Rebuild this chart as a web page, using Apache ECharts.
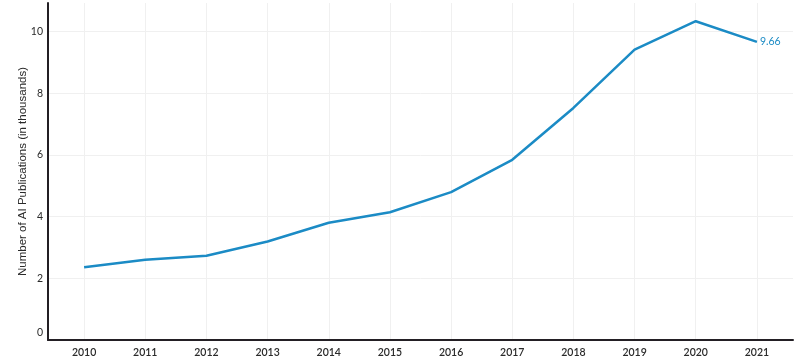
<!DOCTYPE html>
<html>
<head>
<meta charset="utf-8">
<script src="https://cdn.jsdelivr.net/npm/echarts@6/dist/echarts.min.js"></script>
<style>
html,body{margin:0;padding:0;background:#fff;}
#chart{width:800px;height:363px;}
</style>
</head>
<body>
<div id="chart"></div>
<script>
const years = [2010, 2011, 2012, 2013, 2014, 2015, 2016, 2017, 2018, 2019, 2020, 2021];
const publications = [2.36, 2.60, 2.73, 3.19, 3.80, 4.14, 4.79, 5.84, 7.52, 9.41, 10.33, 9.66];
const yTicks = [0, 2, 4, 6, 8, 10];
const yAxisTitle = 'Number of AI Publications (in thousands)';

const lineColor = '#1b8bc5';
const font = 'Lato, "Open Sans", sans-serif';
const titleFont = '"Liberation Sans", Arial, sans-serif';

const chart = echarts.init(document.getElementById('chart'), null, {renderer: 'canvas'});
chart.setOption({
  animation: false,
  backgroundColor: '#fff',
  grid: {left: 48, right: 7, top: 3, bottom: 23, containLabel: false},
  xAxis: {
    type: 'value',
    min: 2009.41,
    max: 2021.59,
    axisLine: {show: true, onZero: false, lineStyle: {color: '#231f24', width: 2}},
    axisTick: {show: false, customValues: years},
    axisLabel: {
      customValues: years,
      color: '#2a2a2a', fontSize: 10.5, fontFamily: font, fontWeight: 600, margin: 7,
      formatter: v => String(v)
    },
    splitLine: {show: true, lineStyle: {color: '#f0f0f0', width: 1}}
  },
  yAxis: {
    type: 'value',
    min: 0,
    max: 10.92,
    axisLine: {show: true, lineStyle: {color: '#231f24', width: 2}},
    axisTick: {show: false, customValues: yTicks},
    axisLabel: {
      customValues: yTicks,
      color: '#2a2a2a', fontSize: 10.5, fontFamily: font, margin: 5,
      formatter: v => v === 0 ? '{z|0}' : String(v),
      rich: {z: {fontSize: 10.5, fontFamily: font, color: '#2a2a2a', padding: [0, 0, 14, 0]}}
    },
    splitLine: {show: true, lineStyle: {color: '#f0f0f0', width: 1}},
    name: yAxisTitle,
    nameLocation: 'middle',
    nameGap: 19.5,
    nameMoveOverlap: false,
    nameRotate: 90,
    nameTextStyle: {color: '#2a2a2a', fontSize: 11.5, fontFamily: titleFont}
  },
  series: [{
    type: 'line',
    data: years.map((y, i) => [y, publications[i]]),
    showSymbol: false,
    symbol: 'none',
    lineStyle: {color: lineColor, width: 2.5},
    endLabel: {
      show: true,
      formatter: p => p.value[1].toFixed(2),
      color: lineColor, fontSize: 10.5, fontFamily: font, distance: 3
    }
  }]
});
</script>
</body>
</html>
